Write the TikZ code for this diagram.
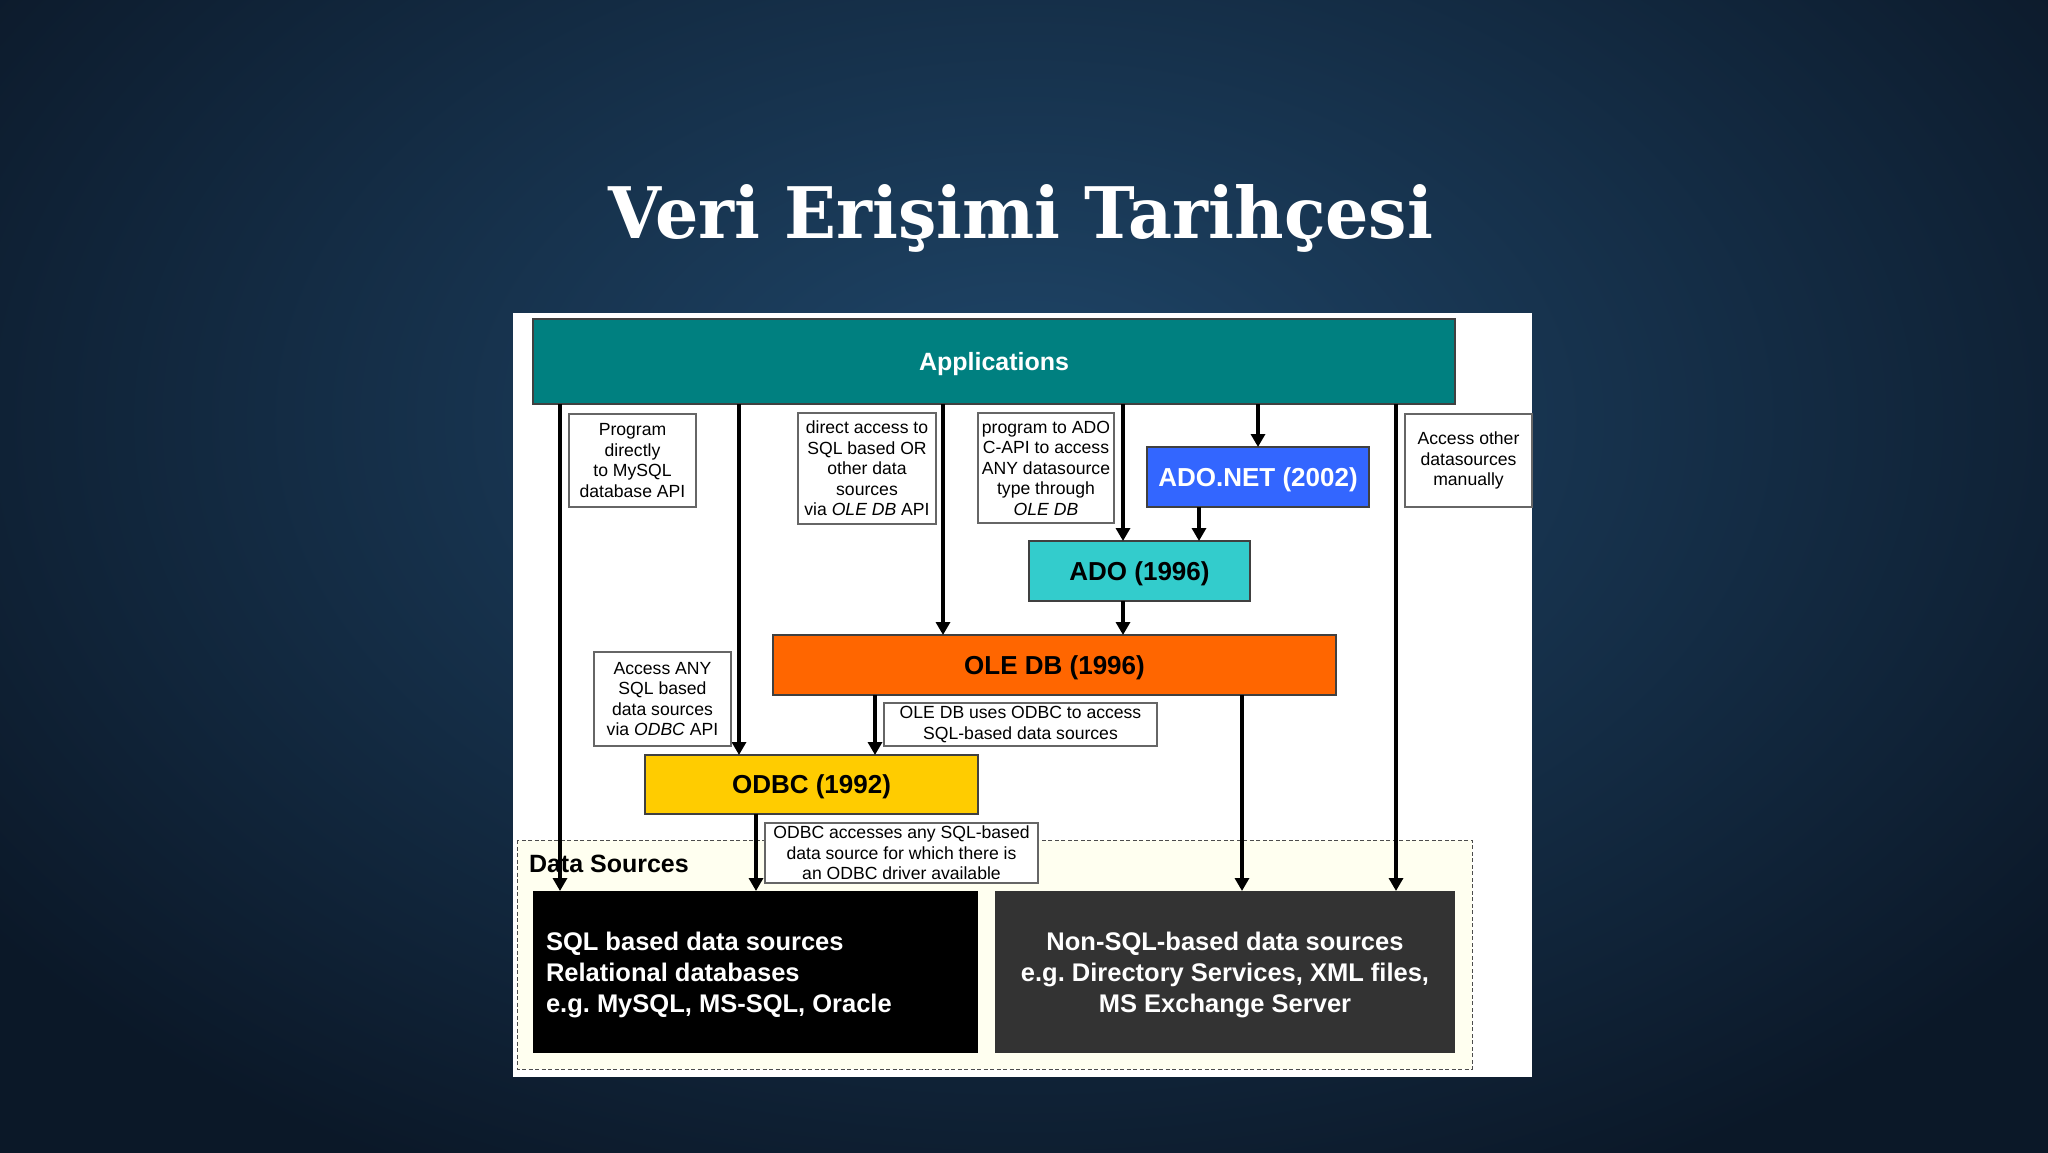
\documentclass[tikz,border=0pt]{standalone}
\usepackage{graphicx}
\usepackage{fontspec}
\setmainfont{Liberation Sans}
\newfontfamily\titlefont{DejaVu Serif}
\usetikzlibrary{arrows.meta}
\frenchspacing
\definecolor{bgdark}{HTML}{0B1828}
\definecolor{bglight}{HTML}{1F4669}
\definecolor{appteal}{HTML}{008080}
\definecolor{adonetblue}{HTML}{3366FF}
\definecolor{adocyan}{HTML}{33CCCC}
\definecolor{oleorange}{HTML}{FF6600}
\definecolor{odbcyellow}{HTML}{FFCC00}
\definecolor{nonsqlgray}{HTML}{333333}
\definecolor{cream}{HTML}{FFFFF0}
\begin{document}
\begin{tikzpicture}[x=1pt,y=-1pt,
  every node/.style={inner sep=0pt, outer sep=0pt},
  blk/.style={draw=black!75, line width=1.2pt, rectangle,
    font=\fontsize{26}{30}\selectfont\bfseries, text height=18.6pt, text depth=0pt},
  dsbox/.style={rectangle, text=white, font=\fontsize{25.5}{31}\selectfont\bfseries},
  note/.style={draw=black!60, fill=white, line width=1.2pt, rectangle, align=center,
    font=\fontsize{17.6}{20.5}\selectfont},
  arr/.style={line width=4pt, -{Triangle[width=14pt,length=13pt]}},
]
\useasboundingbox (0,0) rectangle (2048,1152);
% background
\fill[bgdark] (-4,-4) rectangle (2052,1156);
\shade[inner color=bglight, outer color=bgdark] (1024,420) ellipse (1300 and 850);
% title
\node[anchor=base, text=white] (title) at (1021,238)
  {\resizebox{824pt}{54pt}{\titlefont\bfseries Veri Erişimi Tarihçesi}};
% panel
\fill[white] (513,313) rectangle (1532,1077);
% data sources region
\draw[draw=black!70, line width=1pt, dash pattern=on 4pt off 2.5pt, fill=cream]
  (517,840) rectangle (1472,1069);
\node[anchor=base west, font=\fontsize{25}{30}\selectfont\bfseries] (dslabel) at (529,872) {Data Sources};
% main boxes
\node[blk, fill=appteal, text=white, minimum width=922pt, minimum height=85pt,
  font=\fontsize{25}{30}\selectfont\bfseries, text height=17.9pt] (apps) at (994,361.5) {Applications};
\node[blk, fill=adonetblue, text=white, minimum width=222pt, minimum height=60pt] (adonet) at (1258,477) {ADO.NET (2002)};
\node[blk, fill=adocyan, minimum width=221pt, minimum height=60pt] (ado) at (1139.5,571) {ADO (1996)};
\node[blk, fill=oleorange, minimum width=563pt, minimum height=60pt] (oledb) at (1054.5,665) {OLE DB (1996)};
\node[blk, fill=odbcyellow, minimum width=333pt, minimum height=59pt] (odbc) at (811.5,784.5) {ODBC (1992)};
\node[dsbox, fill=black, minimum width=445pt, minimum height=162pt] (sql) at (755.5,972) {};
\node[dsbox, fill=nonsqlgray, minimum width=460pt, minimum height=162pt] (nonsql) at (1225,972) {};
\node[dsbox, anchor=west, align=left] (sqltext) at ([yshift=-3pt]sql.west) [xshift=13pt]
  {SQL based data sources\\Relational databases\\e.g. MySQL, MS-SQL, Oracle};
\node[dsbox, align=center] (nonsqltext) at ([yshift=-3pt]nonsql.center)
  {Non-SQL-based data sources\\e.g. Directory Services, XML files,\\MS Exchange Server};
% x positions of connectors
\path (560,0) coordinate (xA) (739,0) coordinate (xB) (943,0) coordinate (xC)
      (1123,0) coordinate (xD) (1396,0) coordinate (xF) (1199,0) coordinate (xG)
      (875,0) coordinate (xH) (1242,0) coordinate (xI) (756,0) coordinate (xJ);
% connectors
\draw[arr] (apps.south -| xA) -- (sql.north -| xA);
\draw[arr] (apps.south -| xB) -- (odbc.north -| xB);
\draw[arr] (apps.south -| xC) -- (oledb.north -| xC);
\draw[arr] (apps.south -| xD) -- (ado.north -| xD);
\draw[arr] (apps.south -| adonet.north) -- (adonet.north);
\draw[arr] (apps.south -| xF) -- (nonsql.north -| xF);
\draw[arr] (adonet.south -| xG) -- (ado.north -| xG);
\draw[arr] (ado.south -| xD) -- (oledb.north -| xD);
\draw[arr] (oledb.south -| xH) -- (odbc.north -| xH);
\draw[arr] (oledb.south -| xI) -- (nonsql.north -| xI);
\draw[arr] (odbc.south -| xJ) -- (sql.north -| xJ);
% notes
\node[note, minimum width=127pt, minimum height=93pt] (n1) at (632.5,460.5)
  {Program\\directly\\to MySQL\\database API};
\node[note, minimum width=138pt, minimum height=111pt] (n2) at (867,468.5)
  {direct access to\\SQL based OR\\other data\\sources\\via \textit{OLE DB} API};
\node[note, minimum width=136pt, minimum height=110pt] (n3) at (1046,468)
  {program to ADO\\C-API to access\\ANY datasource\\type through\\\textit{OLE DB}};
\node[note, minimum width=127pt, minimum height=93pt] (n4) at (1468.5,460.5)
  {Access other\\datasources\\manually};
\node[note, minimum width=137pt, minimum height=94pt] (n5) at (662.5,699)
  {Access ANY\\SQL based\\data sources\\via \textit{ODBC} API};
\node[note, minimum width=273pt, minimum height=43pt] (n6) at (1020.5,724.5)
  {OLE DB uses ODBC to access\\SQL-based data sources};
\node[note, minimum width=273pt, minimum height=60pt] (n7) at (901.5,853)
  {ODBC accesses any SQL-based\\data source for which there is\\an ODBC driver available};
\end{tikzpicture}
\end{document}
